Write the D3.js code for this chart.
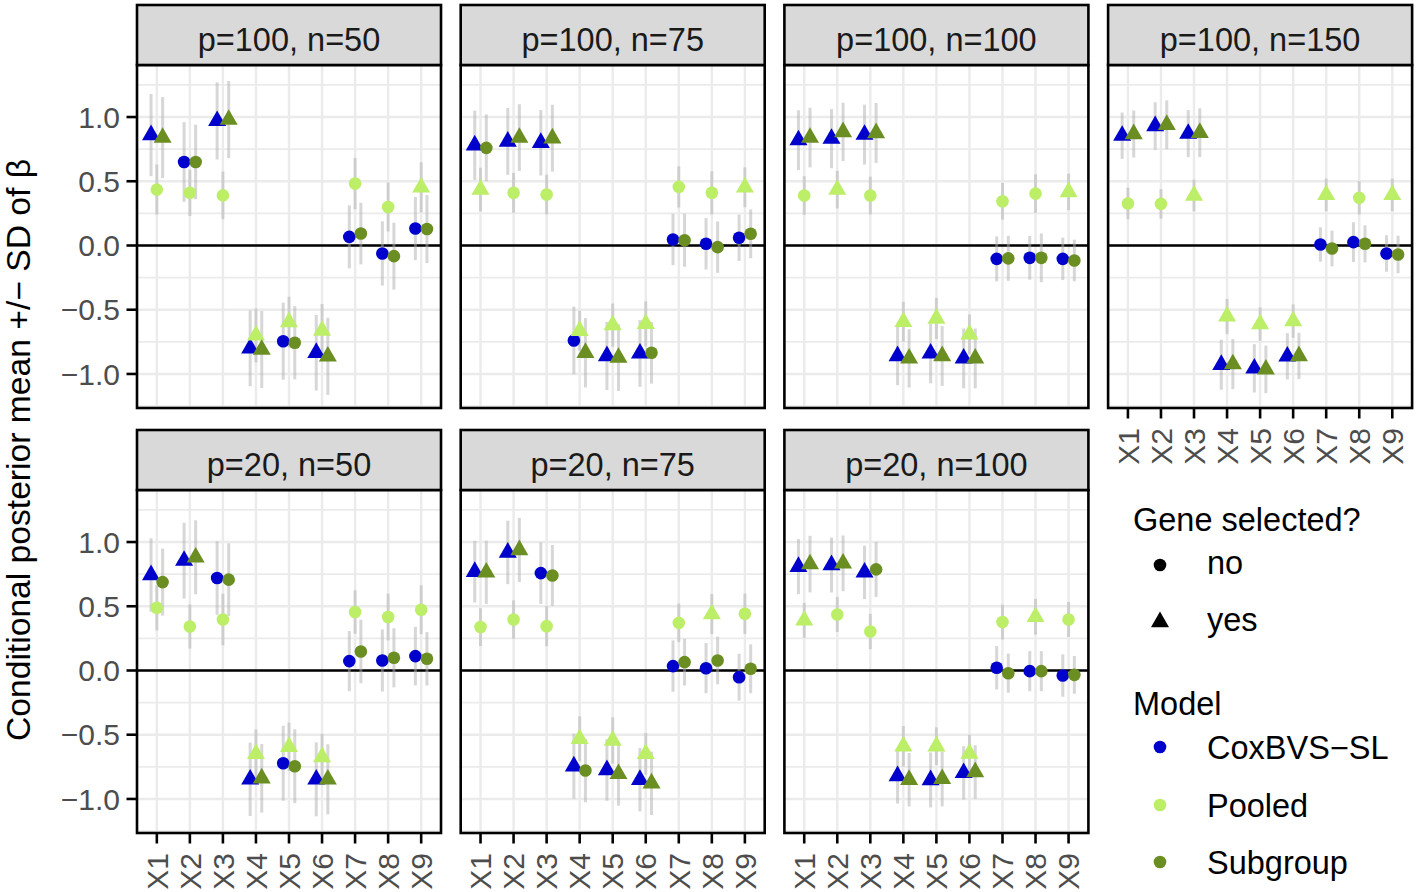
<!DOCTYPE html>
<html><head><meta charset="utf-8">
<script src="https://cdn.jsdelivr.net/npm/d3@7"></script>
<style>body{margin:0;background:#fff}svg{display:block;font-family:"Liberation Sans",Arial,sans-serif}</style>
</head><body><svg id="c" width="1416" height="892"></svg>
<script>
const facets = ["p=100, n=50","p=100, n=75","p=100, n=100","p=100, n=150","p=20, n=50","p=20, n=75","p=20, n=100"];
const genes = ["X1","X2","X3","X4","X5","X6","X7","X8","X9"];
const models = ["CoxBVS-SL","Pooled","Subgroup"];
const modelLabels = ["CoxBVS\u2212SL","Pooled","Subgroup"];
const modelColors = ["#0000CD","#BCEE68","#6B8E23"];
const selLabels = ["no","yes"];
const yTicks = [-1.0,-0.5,0.0,0.5,1.0];
const yMinor = [-1.25,-0.75,-0.25,0.25,0.75,1.25];

const coxMean = [
 [0.86,0.65,0.97,-0.80,-0.745,-0.835,0.067,-0.062,0.132],
 [0.78,0.81,0.80,-0.739,-0.86,-0.84,0.047,0.013,0.06],
 [0.82,0.832,0.863,-0.86,-0.84,-0.879,-0.104,-0.096,-0.104],
 [0.855,0.93,0.871,-0.928,-0.956,-0.863,0.008,0.026,-0.062],
 [0.743,0.855,0.72,-0.847,-0.722,-0.847,0.073,0.078,0.112],
 [0.769,0.919,0.758,-0.745,-0.774,-0.85,0.034,0.018,-0.052],
 [0.808,0.821,0.764,-0.821,-0.852,-0.797,0.021,-0.005,-0.039]];
const coxSD = [
 [0.32,0.31,0.30,0.295,0.30,0.294,0.245,0.25,0.246],
 [0.27,0.26,0.255,0.263,0.265,0.26,0.20,0.20,0.18],
 [0.233,0.23,0.233,0.227,0.233,0.233,0.175,0.17,0.165],
 [0.18,0.185,0.183,0.195,0.188,0.18,0.134,0.155,0.142],
 [0.286,0.295,0.286,0.286,0.292,0.288,0.234,0.242,0.228],
 [0.24,0.247,0.24,0.253,0.24,0.247,0.2,0.195,0.182],
 [0.214,0.214,0.208,0.214,0.214,0.208,0.169,0.156,0.165]];
const coxSel = [
 [1,0,1,1,0,1,0,0,0],
 [1,1,1,0,1,1,0,0,0],
 [1,1,1,1,1,1,0,0,0],
 [1,1,1,1,1,1,0,0,0],
 [1,1,0,1,0,1,0,0,0],
 [1,1,0,1,1,1,0,0,0],
 [1,1,1,1,1,1,0,0,0]];
const pooledMean = [
 [0.435,0.41,0.39,-0.70,-0.596,-0.663,0.482,0.30,0.453],
 [0.435,0.41,0.397,-0.664,-0.62,-0.61,0.456,0.41,0.453],
 [0.389,0.435,0.389,-0.594,-0.568,-0.692,0.344,0.404,0.417],
 [0.327,0.324,0.389,-0.552,-0.612,-0.589,0.394,0.371,0.394],
 [0.488,0.343,0.397,-0.649,-0.594,-0.673,0.455,0.416,0.473],
 [0.338,0.397,0.345,-0.532,-0.545,-0.649,0.371,0.439,0.442],
 [0.39,0.436,0.304,-0.59,-0.59,-0.647,0.377,0.418,0.397]];
const pooledSD = [
 [0.195,0.18,0.185,0.21,0.197,0.207,0.20,0.19,0.195],
 [0.17,0.155,0.155,0.155,0.168,0.175,0.16,0.168,0.155],
 [0.15,0.146,0.147,0.155,0.16,0.155,0.143,0.15,0.142],
 [0.123,0.115,0.123,0.136,0.13,0.13,0.127,0.13,0.126],
 [0.175,0.172,0.2,0.19,0.188,0.18,0.169,0.182,0.19],
 [0.147,0.149,0.156,0.175,0.18,0.162,0.15,0.156,0.157],
 [0.136,0.136,0.137,0.158,0.147,0.147,0.136,0.139,0.136]];
const pooledSel = [
 [0,0,0,1,1,1,0,0,1],
 [1,0,0,1,1,1,0,0,1],
 [0,1,0,1,1,1,0,0,1],
 [0,0,1,1,1,1,1,0,1],
 [0,0,0,1,1,1,0,0,0],
 [0,0,0,1,1,1,0,1,0],
 [1,0,0,1,1,1,0,1,0]];
const subMean = [
 [0.84,0.65,0.98,-0.81,-0.757,-0.863,0.093,-0.083,0.128],
 [0.76,0.84,0.835,-0.835,-0.873,-0.835,0.041,-0.013,0.091],
 [0.84,0.884,0.876,-0.879,-0.86,-0.879,-0.10,-0.096,-0.117],
 [0.868,0.94,0.878,-0.923,-0.964,-0.86,-0.023,0.013,-0.07],
 [0.688,0.881,0.707,-0.839,-0.745,-0.847,0.148,0.099,0.091],
 [0.764,0.938,0.74,-0.779,-0.805,-0.878,0.065,0.078,0.013],
 [0.828,0.834,0.787,-0.85,-0.844,-0.79,-0.021,-0.005,-0.034]];
const subSD = [
 [0.315,0.29,0.30,0.30,0.285,0.30,0.24,0.26,0.265],
 [0.26,0.26,0.26,0.27,0.26,0.24,0.207,0.20,0.19],
 [0.232,0.227,0.233,0.227,0.233,0.233,0.175,0.19,0.162],
 [0.183,0.19,0.19,0.195,0.185,0.18,0.139,0.144,0.146],
 [0.26,0.288,0.283,0.267,0.288,0.273,0.247,0.23,0.208],
 [0.247,0.25,0.237,0.247,0.247,0.247,0.182,0.185,0.19],
 [0.22,0.217,0.214,0.208,0.214,0.208,0.152,0.156,0.147]];
const subSel = [
 [1,0,1,1,0,1,0,0,0],
 [0,1,1,1,1,0,0,0,0],
 [1,1,1,1,1,1,0,0,0],
 [1,1,1,1,1,1,0,0,0],
 [0,1,0,1,0,1,0,0,0],
 [1,1,0,0,1,1,0,0,0],
 [1,1,0,1,1,1,0,0,0]];

const means = [coxMean, pooledMean, subMean];
const sds = [coxSD, pooledSD, subSD];
const sels = [coxSel, pooledSel, subSel];

const svg = d3.select("#c");
const FONT_AX = 30, FONT_STRIP = 32.5, FONT_LEG = 32.5;
const panelW = 304, panelH = 343, stripH = 60;
const colX = i => 137 + i*323.7;
const rowY = r => 65 + r*425; // panel top
const dodge = [-0.175, 0, 0.175];
const triR = 6.7, circR = 6.3;

function triPath(R){
  const top = 1.555*R, bot = 0.777*R, hw = 1.347*R;
  return `M0,${-top}L${hw},${bot}L${-hw},${bot}Z`;
}

facets.forEach((fname, fi) => {
  const col = fi % 4, row = Math.floor(fi/4);
  const x0 = colX(col), y0 = rowY(row);
  const x = d3.scalePoint().domain(genes).range([x0, x0+panelW]).padding(0.6);
  const y = d3.scaleLinear().domain([-1.265, 1.405]).range([y0+panelH, y0]);
  const g = svg.append("g");
  g.append("rect").attr("x",x0).attr("y",y0).attr("width",panelW).attr("height",panelH).attr("fill","#fff");
  g.selectAll(".mn").data(yMinor).join("line")
    .attr("x1",x0).attr("x2",x0+panelW).attr("y1",d=>y(d)).attr("y2",d=>y(d))
    .attr("stroke","#EBEBEB").attr("stroke-width",1.6);
  g.selectAll(".mj").data(yTicks).join("line")
    .attr("x1",x0).attr("x2",x0+panelW).attr("y1",d=>y(d)).attr("y2",d=>y(d))
    .attr("stroke","#EBEBEB").attr("stroke-width",2.4);
  g.selectAll(".vx").data(genes).join("line")
    .attr("x1",d=>x(d)).attr("x2",d=>x(d)).attr("y1",y0).attr("y2",y0+panelH)
    .attr("stroke","#EBEBEB").attr("stroke-width",2.4);
  g.append("line").attr("x1",x0).attr("x2",x0+panelW).attr("y1",y(0)).attr("y2",y(0))
    .attr("stroke","#000").attr("stroke-width",2.6);
  const recs = [];
  models.forEach((m, mi) => {
    genes.forEach((gn, gi) => {
      recs.push({mi, gn, mean: means[mi][fi][gi], sd: sds[mi][fi][gi], sel: sels[mi][fi][gi]});
    });
  });
  const step = x.step();
  const px = d => x(d.gn) + dodge[d.mi]*step;
  g.selectAll(".eb").data(recs).join("line")
    .attr("x1",px).attr("x2",px)
    .attr("y1",d=>y(d.mean+d.sd)).attr("y2",d=>y(d.mean-d.sd))
    .attr("stroke","rgb(175,175,175)").attr("stroke-opacity",0.5).attr("stroke-width",3);
  recs.forEach(d => {
    if (d.sel) {
      g.append("path").attr("d",triPath(triR))
        .attr("transform",`translate(${px(d)},${y(d.mean)})`).attr("fill",modelColors[d.mi]);
    } else {
      g.append("circle").attr("cx",px(d)).attr("cy",y(d.mean)).attr("r",circR).attr("fill",modelColors[d.mi]);
    }
  });
  g.append("rect").attr("x",x0).attr("y",y0).attr("width",panelW).attr("height",panelH)
    .attr("fill","none").attr("stroke","#000").attr("stroke-width",2.6);
  g.append("rect").attr("x",x0).attr("y",y0-stripH).attr("width",panelW).attr("height",stripH)
    .attr("fill","#D9D9D9").attr("stroke","#000").attr("stroke-width",2.6);
  g.append("text").attr("x",x0+panelW/2).attr("y",y0-14).attr("text-anchor","middle")
    .attr("font-size",FONT_STRIP).attr("fill","#1A1A1A").text(fname);
  if (col === 0) {
    const ya = g.append("g");
    ya.selectAll("line").data(yTicks).join("line")
      .attr("x1",x0-10.5).attr("x2",x0).attr("y1",d=>y(d)).attr("y2",d=>y(d))
      .attr("stroke","#000").attr("stroke-width",2.6);
    ya.selectAll("text").data(yTicks).join("text")
      .attr("x",x0-17).attr("y",d=>y(d)+FONT_AX*0.358).attr("text-anchor","end")
      .attr("font-size",FONT_AX).attr("fill","#4D4D4D")
      .text(d=>d3.format(".1f")(d).replace("-","\u2212"));
  }
  if (row === 1 || fi === 3) {
    const xa = g.append("g");
    const yb = y0+panelH;
    xa.selectAll("line").data(genes).join("line")
      .attr("x1",d=>x(d)).attr("x2",d=>x(d)).attr("y1",yb).attr("y2",yb+10.5)
      .attr("stroke","#000").attr("stroke-width",2.6);
    xa.selectAll("text").data(genes).join("text")
      .attr("transform",d=>`translate(${x(d)+FONT_AX*0.358},${yb+20}) rotate(-90)`)
      .attr("text-anchor","end").attr("font-size",FONT_AX).attr("fill","#4D4D4D").text(d=>d);
  }
});

svg.append("text").attr("transform","translate(30,450) rotate(-90)")
  .attr("text-anchor","middle").attr("font-size",33).attr("fill","#000")
  .attr("textLength",582).attr("lengthAdjust","spacingAndGlyphs")
  .text("Conditional posterior mean +/\u2212 SD of  \u03b2");

const lg = svg.append("g");
lg.append("text").attr("x",1133).attr("y",519+FONT_LEG*0.358).attr("font-size",FONT_LEG).attr("fill","#000").text("Gene selected?");
const selY = [565, 622];
selLabels.forEach((s, i) => {
  if (i === 0) lg.append("circle").attr("cx",1160).attr("cy",selY[i]).attr("r",circR).attr("fill","#000");
  else lg.append("path").attr("d",triPath(triR)).attr("transform",`translate(1160,${selY[i]})`).attr("fill","#000");
  lg.append("text").attr("x",1207).attr("y",selY[i]+FONT_LEG*0.27).attr("font-size",FONT_LEG).attr("fill","#000").text(s);
});
lg.append("text").attr("x",1133).attr("y",703+FONT_LEG*0.358).attr("font-size",FONT_LEG).attr("fill","#000").text("Model");
const modY = [747, 805, 862];
modelLabels.forEach((m, i) => {
  lg.append("circle").attr("cx",1160).attr("cy",modY[i]).attr("r",circR).attr("fill",modelColors[i]);
  lg.append("text").attr("x",1207).attr("y",modY[i]+FONT_LEG*0.358).attr("font-size",FONT_LEG).attr("fill","#000").text(m);
});
</script></body></html>
